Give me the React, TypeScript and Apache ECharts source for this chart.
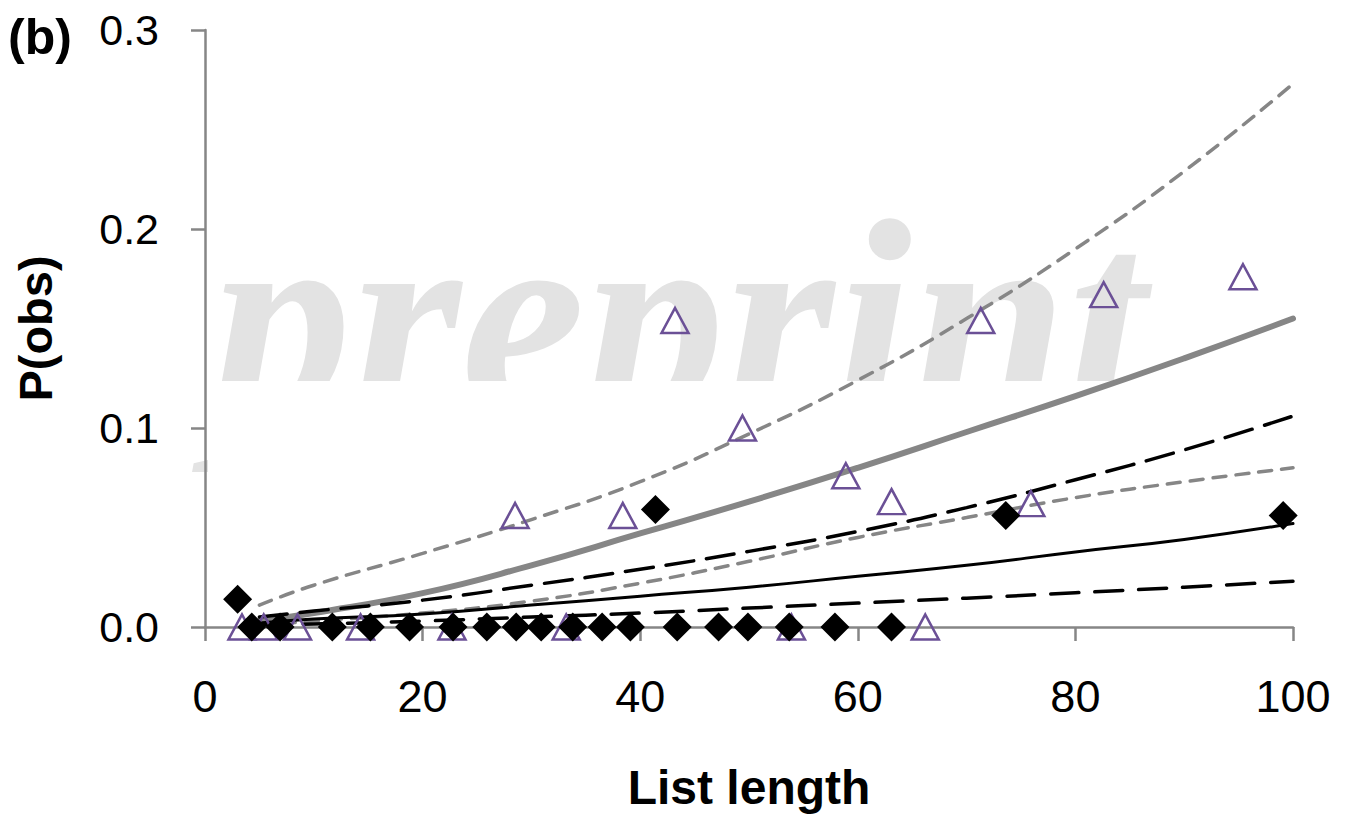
import React, { useEffect, useRef } from "react";
import * as echarts from "echarts";

// Observed data
const diamondX = [3.0, 4.3, 6.9, 11.7, 15.2, 18.8, 22.8, 25.9, 28.6, 30.9, 33.8, 36.5, 39.1, 41.4, 43.4, 47.2, 49.9, 53.7, 57.9, 63.1, 73.6, 99.1];
const diamondY = [0.014, 0, 0, 0, 0, 0, 0, 0, 0, 0, 0, 0, 0, 0.059, 0, 0, 0, 0, 0, 0, 0.056, 0.056];
const triangleX = [3.4, 5.4, 8.5, 14.3, 22.7, 28.5, 33.2, 38.4, 43.2, 49.4, 53.9, 58.9, 63.1, 66.2, 71.3, 75.9, 82.6, 95.4];
const triangleY = [0, 0, 0, 0, 0, 0.056, 0, 0.056, 0.154, 0.1, 0, 0.076, 0.063, 0, 0.154, 0.062, 0.167, 0.176];

// Fitted curves, read at sample points
const curveX = [5, 10, 20, 30, 40, 50, 60, 70, 80, 90, 100];
const graySolid = [0.003, 0.007, 0.017, 0.031, 0.047, 0.063, 0.080, 0.098, 0.116, 0.135, 0.155];
const grayDashUpper = [0.011, 0.021, 0.037, 0.054, 0.073, 0.097, 0.124, 0.155, 0.190, 0.229, 0.273];
const grayDashLower = [0.001, 0.003, 0.007, 0.013, 0.022, 0.033, 0.045, 0.055, 0.065, 0.073, 0.080];
const blackDashUpper = [0.005, 0.008, 0.0135, 0.021, 0.029, 0.038, 0.048, 0.060, 0.074, 0.089, 0.106];
const blackSolid = [0.002, 0.004, 0.0065, 0.011, 0.0155, 0.020, 0.0255, 0.031, 0.0377, 0.044, 0.052];
const blackDashLower = [0.001, 0.0015, 0.003, 0.005, 0.007, 0.0095, 0.012, 0.0145, 0.0172, 0.020, 0.023];

const yTicks = [0, 0.1, 0.2, 0.3];
const xTicks = [0, 20, 40, 60, 80, 100];

const pairs = (xs: number[], ys: number[]) => xs.map((x, i) => [x, ys[i]]);

const GRAY = "#868686";
const PURPLE = "#6b5096";
const FONT = "Liberation Sans, Arial, Helvetica, sans-serif";

export default function App() {
  const ref = useRef<HTMLDivElement>(null);
  useEffect(() => {
    if (!ref.current) return;
    const chart = echarts.init(ref.current, undefined, { renderer: "svg" });
    const line = (name: string, ys: number[], color: string, width: number, type: any) => ({
      name,
      type: "line",
      data: pairs(curveX, ys),
      smooth: true,
      showSymbol: false,
      symbol: "none",
      silent: true,
      z: 3,
      lineStyle: { color, width, type, cap: "round", opacity: 1 },
    });
    chart.setOption({
      animation: false,
      backgroundColor: "#ffffff",
      grid: { left: 205, right: 59, top: 30, bottom: 191, containLabel: false, outerBoundsMode: "none" },
      xAxis: {
        type: "value",
        min: 0,
        max: 100,
        interval: 20,
        name: "List length",
        nameLocation: "middle",
        nameGap: 136,
        nameTextStyle: { fontFamily: FONT, fontWeight: "bold", fontSize: 48, color: "#000" },
        axisLine: { show: true, lineStyle: { color: GRAY, width: 2.5 } },
        axisTick: { show: true, inside: false, length: 14, lineStyle: { color: GRAY, width: 2.5 } },
        axisLabel: {
          fontFamily: FONT,
          fontSize: 45,
          color: "#000",
          margin: 47,
          formatter: (v: number) => (xTicks.includes(v) ? String(v) : ""),
        },
        splitLine: { show: false },
      },
      yAxis: {
        type: "value",
        min: 0,
        max: 0.3,
        interval: 0.1,
        name: "P(obs)",
        nameLocation: "middle",
        nameGap: 146,
        nameRotate: 90,
        nameTextStyle: { fontFamily: FONT, fontWeight: "bold", fontSize: 47, color: "#000" },
        axisLine: { show: true, lineStyle: { color: GRAY, width: 2.5 } },
        axisTick: { show: true, inside: false, length: 14, lineStyle: { color: GRAY, width: 2.5 } },
        axisLabel: {
          fontFamily: FONT,
          fontSize: 43,
          color: "#000",
          margin: 46,
          formatter: (v: number) => {
            const t = yTicks.find((k) => Math.abs(k - v) < 1e-9);
            return t === undefined ? "" : t.toFixed(1);
          },
        },
        splitLine: { show: false },
      },
      graphic: [
        {
          type: "text",
          z: 0,
          silent: true,
          left: 212,
          top: 178,
          style: {
            text: "preprint",
            font: "italic bold 280px 'Liberation Serif', 'DejaVu Serif', serif",
            fill: "#e3e3e3",
          },
        },
        {
          type: "rect",
          z: 1,
          silent: true,
          shape: { x: 208, y: 381, width: 1083, height: 244 },
          style: { fill: "#ffffff" },
        },
        {
          type: "text",
          left: 8,
          top: 12,
          z: 10,
          style: {
            text: "(b)",
            font: "bold 50px 'Liberation Sans', Arial, sans-serif",
            fill: "#000",
          },
        },
      ],
      series: [
        line("Upper bound (gray)", grayDashUpper, GRAY, 3.5, [13, 10]),
        line("Lower bound (gray)", grayDashLower, GRAY, 3.5, [13, 10]),
        line("Fit (gray)", graySolid, GRAY, 6, "solid"),
        line("Upper bound (black)", blackDashUpper, "#000", 3.5, [28, 13]),
        line("Lower bound (black)", blackDashLower, "#000", 3.5, [28, 16]),
        line("Fit (black)", blackSolid, "#000", 3, "solid"),
        {
          name: "Observed (triangles)",
          type: "scatter",
          data: pairs(triangleX, triangleY),
          symbol: "triangle",
          symbolSize: [27, 25],
          z: 4,
          itemStyle: { color: "rgba(255,255,255,0)", borderColor: PURPLE, borderWidth: 2.5, opacity: 1 },
        },
        {
          name: "Observed (diamonds)",
          type: "scatter",
          data: pairs(diamondX, diamondY),
          symbol: "diamond",
          symbolSize: [29, 29],
          z: 5,
          itemStyle: { color: "#000", opacity: 1 },
        },
      ],
    });
    return () => chart.dispose();
  }, []);
  return (
    <div
      ref={ref}
      style={{ position: "fixed", left: 0, top: 0, width: 1352, height: 818 }}
    />
  );
}
